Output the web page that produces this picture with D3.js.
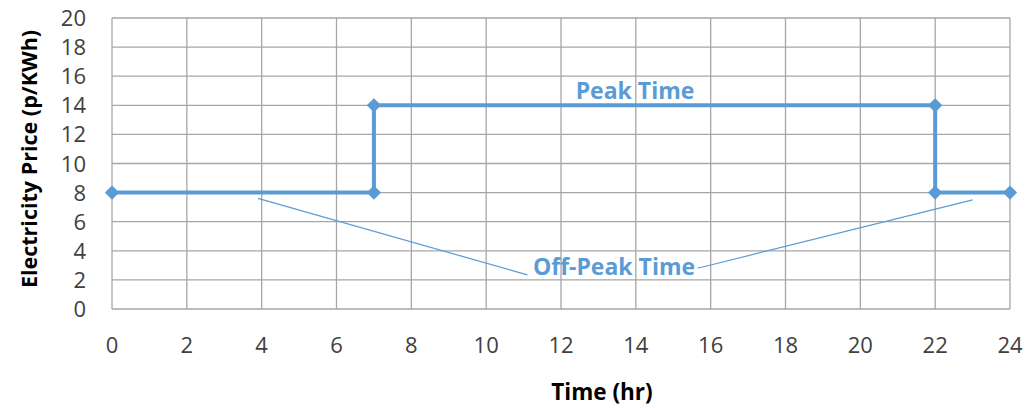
<!DOCTYPE html>
<html>
<head>
<meta charset="utf-8">
<script src="https://cdn.jsdelivr.net/npm/d3@7"></script>
<style>
  body { margin: 0; background: #fff; }
  svg { display: block; font-family: "Open Sans", Lato, sans-serif; }
</style>
</head>
<body>
<div id="chart"></div>
<script>
const hours = [0, 7, 7, 22, 22, 24];
const prices = [8, 8, 14, 14, 8, 8];
const xTicks = d3.range(0, 25, 2);
const yTicks = d3.range(0, 21, 2);
// leader lines for the off-peak label, in data units
const offPeakLeaders = [
  [[3.9, 7.6], [11.1, 2.35]],
  [[15.65, 2.8], [23.0, 7.5]]
];

const width = 1031, height = 408;
const margin = { top: 18, right: 21, bottom: 99, left: 112 };
const color = '#5b9bd5';

const svg = d3.select('#chart').append('svg')
  .attr('width', width)
  .attr('height', height);

const x = d3.scaleLinear().domain([0, 24]).range([margin.left, width - margin.right]);
const y = d3.scaleLinear().domain([0, 20]).range([height - margin.bottom, margin.top]);

// grid
svg.append('g')
  .selectAll('line')
  .data(xTicks)
  .join('line')
  .attr('x1', d => x(d)).attr('x2', d => x(d))
  .attr('y1', y(0)).attr('y2', y(20))
  .attr('stroke', '#a6a6a6').attr('stroke-width', 1.3);

svg.append('g')
  .selectAll('line')
  .data(yTicks)
  .join('line')
  .attr('x1', x(0)).attr('x2', x(24))
  .attr('y1', d => y(d)).attr('y2', d => y(d))
  .attr('stroke', '#a6a6a6').attr('stroke-width', 1.3);

// tick labels
svg.append('g')
  .selectAll('text')
  .data(xTicks)
  .join('text')
  .attr('x', d => x(d))
  .attr('y', y(0) + 44)
  .attr('text-anchor', 'middle')
  .attr('font-size', 22)
  .attr('fill', '#404040')
  .text(d => d);

svg.append('g')
  .selectAll('text')
  .data(yTicks)
  .join('text')
  .attr('x', x(0) - 26)
  .attr('y', d => y(d) + 8)
  .attr('text-anchor', 'end')
  .attr('font-size', 22)
  .attr('fill', '#404040')
  .text(d => d);

// axis titles
svg.append('text')
  .attr('x', 602)
  .attr('y', 400)
  .attr('text-anchor', 'middle')
  .attr('font-size', 22.5)
  .attr('font-weight', 'bold')
  .attr('fill', '#000')
  .text('Time (hr)');

svg.append('text')
  .attr('transform', 'translate(37, 159) rotate(-90)')
  .attr('text-anchor', 'middle')
  .attr('font-size', 21.5)
  .attr('font-weight', 'bold')
  .attr('fill', '#000')
  .text('Electricity Price (p/KWh)');

// price line
const pts = hours.map((h, i) => [h, prices[i]]);
svg.append('path')
  .datum(pts)
  .attr('fill', 'none')
  .attr('stroke', color)
  .attr('stroke-width', 4)
  .attr('d', d3.line().x(d => x(d[0])).y(d => y(d[1])));

svg.append('g')
  .selectAll('path')
  .data(pts)
  .join('path')
  .attr('transform', d => `translate(${x(d[0])}, ${y(d[1])})`)
  .attr('d', d3.symbol(d3.symbolDiamond2, 130))
  .attr('fill', color);

// annotations
svg.append('g')
  .selectAll('line')
  .data(offPeakLeaders)
  .join('line')
  .attr('x1', d => x(d[0][0])).attr('y1', d => y(d[0][1]))
  .attr('x2', d => x(d[1][0])).attr('y2', d => y(d[1][1]))
  .attr('stroke', color)
  .attr('stroke-width', 1.2);

svg.append('text')
  .attr('x', 635)
  .attr('y', 99)
  .attr('text-anchor', 'middle')
  .attr('font-size', 23)
  .attr('font-weight', 'bold')
  .attr('fill', color)
  .text('Peak Time');

svg.append('text')
  .attr('x', 614)
  .attr('y', 275)
  .attr('text-anchor', 'middle')
  .attr('font-size', 23)
  .attr('font-weight', 'bold')
  .attr('fill', color)
  .text('Off-Peak Time');
</script>
</body>
</html>
